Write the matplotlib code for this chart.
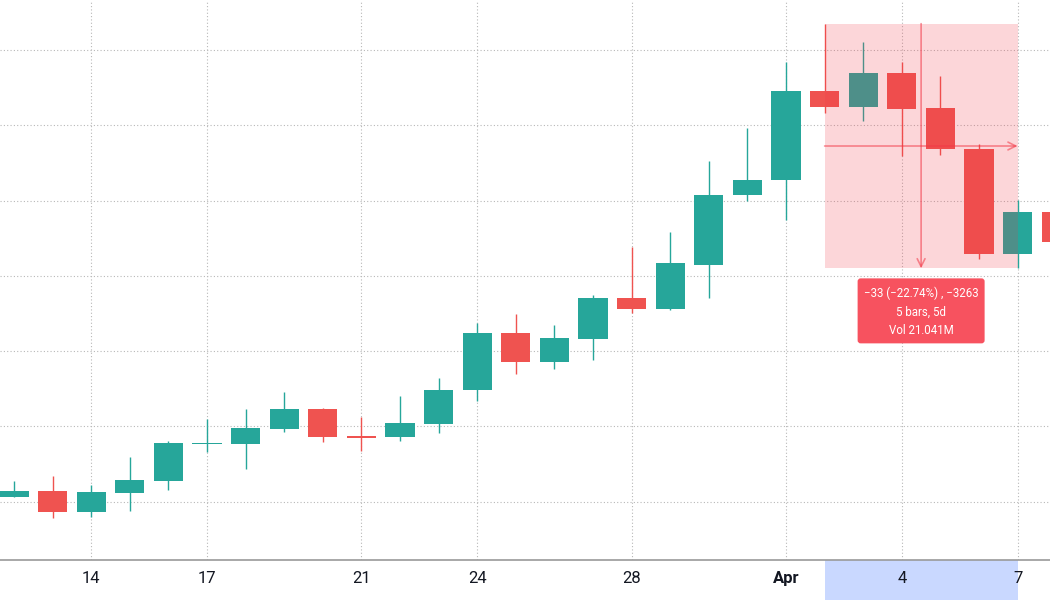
import matplotlib
matplotlib.use("Agg")
import matplotlib.pyplot as plt
import pandas as pd
from matplotlib.patches import Rectangle, FancyBboxPatch

# daily candles, Mar 12 .. Apr 8
dates = pd.date_range("2023-03-12", "2023-04-08", freq="D")
opens = [80.7, 81.4, 78.6, 81.2, 82.8, 87.7, 87.7, 89.7, 92.3, 88.7,
         88.6, 90.3, 94.8, 102.4, 98.5, 101.6, 107.1, 105.6, 111.5, 120.7,
         122.7, 134.6, 132.4, 136.9, 132.3, 126.9, 112.9, 118.5]
highs = [82.8, 83.4, 82.2, 86.0, 88.1, 91.0, 92.3, 94.6, 92.5, 91.3,
         94.1, 96.4, 103.8, 104.9, 103.5, 107.5, 113.9, 115.8, 125.3, 129.6,
         138.4, 143.5, 141.1, 138.4, 136.6, 127.5, 120.1, 119.6]
lows = [80.6, 77.9, 78.0, 78.8, 81.6, 86.6, 84.4, 89.3, 88.0, 86.7,
        88.1, 89.2, 93.4, 97.0, 97.7, 98.8, 105.1, 105.5, 107.1, 119.9,
        117.4, 131.6, 130.6, 125.9, 126.1, 112.2, 111.0, 113.8]
closes = [81.4, 78.6, 81.3, 82.9, 87.8, 87.8, 89.8, 92.3, 88.6, 88.5,
          90.4, 94.9, 102.4, 98.5, 101.7, 107.1, 105.6, 111.7, 120.8, 122.8,
          134.6, 132.4, 136.9, 132.1, 126.8, 112.9, 118.5, 114.5]

tick_dates = ["2023-03-14", "2023-03-17", "2023-03-21", "2023-03-24",
              "2023-03-28", "2023-04-01", "2023-04-04", "2023-04-07"]
price_grid = [80, 90, 100, 110, 120, 130, 140]

# price range measurement
measure_from = "2023-04-02"
measure_to = "2023-04-07"
measure_text = ["\u221233 (\u221222.74%) , \u22123263", "5 bars, 5d", "Vol 21.041M"]

UP = "#26A69A"
DOWN = "#EF5350"
MEASURE = "#F23645"

plt.rcParams["font.family"] = ["Roboto", "DejaVu Sans"]

fig = plt.figure(figsize=(10.5, 6), dpi=100)
ax = fig.add_axes([0, 40 / 600, 1, 560 / 600])

x = list(range(len(dates)))
xlim = (-0.3627, 26.839)
ylim = (72.27, 146.64)
ax.set_xlim(*xlim)
ax.set_ylim(*ylim)
px_x = (xlim[1] - xlim[0]) / 1050
px_y = (ylim[1] - ylim[0]) / 560

# candles
for i, o, h, l, c in zip(x, opens, highs, lows, closes):
    col = UP if c >= o else DOWN
    ax.vlines(i, l, h, color=col, lw=1.0, zorder=2)
    body = max(abs(c - o), 1.3 * px_y)
    ax.bar(i, body, bottom=min(o, c), width=0.76, color=col,
           edgecolor=col, linewidth=0, zorder=2)

# measurement tool
pos = {d.strftime("%Y-%m-%d"): i for i, d in zip(x, dates)}
i0, i1 = pos[measure_from], pos[measure_to]
top, bot = highs[i0], lows[i1]
xm, ym = (i0 + i1) / 2, (top + bot) / 2
ax.add_patch(Rectangle((i0, bot), i1 - i0, top - bot, color=MEASURE,
                       alpha=0.2, lw=0, zorder=3))
arrow = dict(arrowstyle="->", color=MEASURE, alpha=0.55, lw=1.2,
             mutation_scale=14, shrinkA=0, shrinkB=0)
ax.annotate("", xy=(i1, ym), xytext=(i0, ym), arrowprops=arrow, zorder=4)
ax.annotate("", xy=(xm, bot), xytext=(xm, top), arrowprops=arrow, zorder=4)

bw, bh = 127 * px_x, 65 * px_y
btop = bot - 10 * px_y
ax.add_patch(FancyBboxPatch((xm - bw / 2, btop - bh), bw, bh,
                            boxstyle="round,pad=0,rounding_size=%f" % (3 * px_x),
                            mutation_aspect=px_y / px_x,
                            fc="#F7525F", ec="none", zorder=5, clip_on=False))
for k, line in enumerate(measure_text):
    ax.text(xm, btop - (14.5 + 19 * k) * px_y, line, color="white",
            fontsize=8.3, ha="center", va="center", zorder=6)

# highlighted span on the time axis (kept under the tick labels)
ax.add_patch(Rectangle((i0, -40 / 560), i1 - i0, 40 / 560,
                       transform=ax.get_xaxis_transform(), color="#C9D8FF",
                       lw=0, clip_on=False, zorder=0.1))

# axes styling
ticks = [pos[d] for d in tick_dates]
labels = []
for d in tick_dates:
    t = pd.Timestamp(d)
    labels.append(t.strftime("%b") if t.day == 1 else str(t.day))
ax.set_xticks(ticks)
ax.set_xticklabels(labels)
for lab, d in zip(ax.get_xticklabels(), tick_dates):
    if pd.Timestamp(d).day == 1:
        lab.set_fontweight("bold")
ax.set_yticks(price_grid)
ax.tick_params(axis="y", left=False, labelleft=False)
ax.tick_params(axis="x", length=0, pad=8, labelsize=12, labelcolor="#131722")
ax.grid(True, color="#B8B8B8", linestyle=(0, (1, 2)), linewidth=0.8)
ax.set_axisbelow(True)
for s in ("top", "left", "right"):
    ax.spines[s].set_visible(False)
ax.spines["bottom"].set_color("#9A9A9A")
ax.spines["bottom"].set_linewidth(1.2)

fig.savefig("out.png", dpi=100)
